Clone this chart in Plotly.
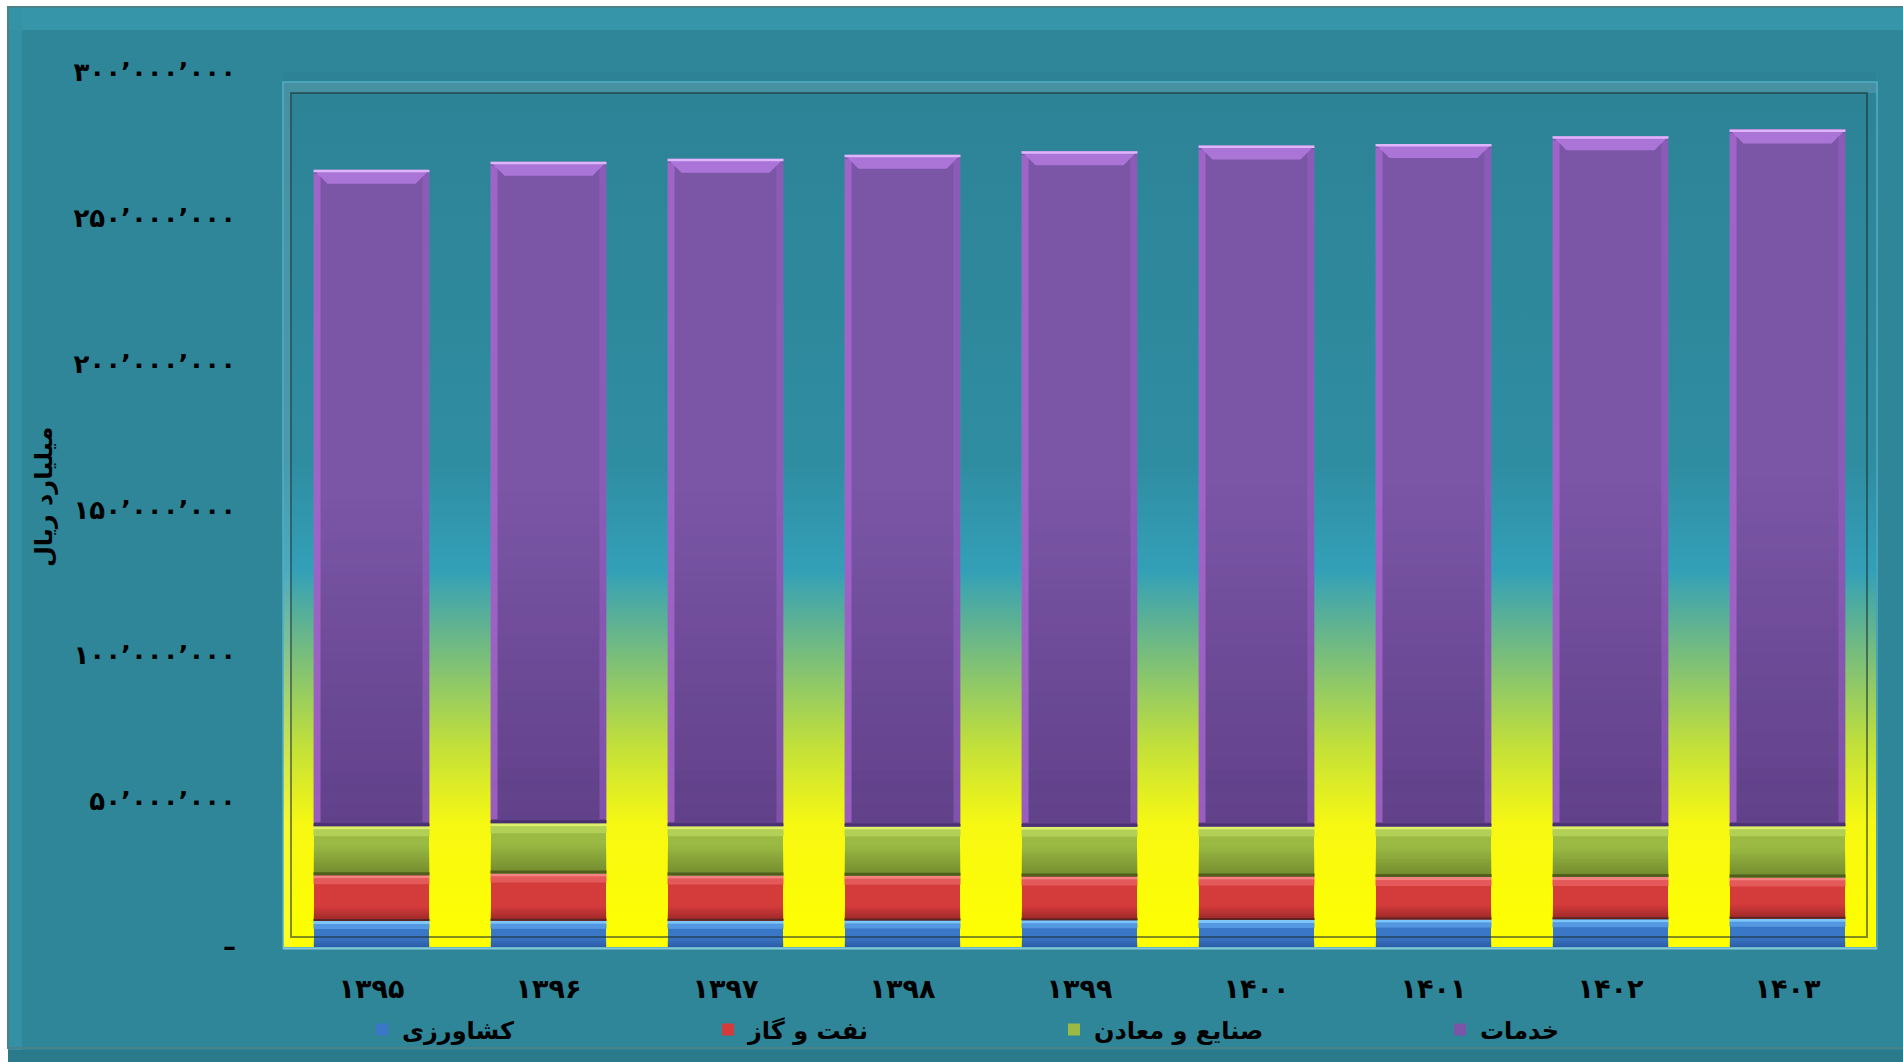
import base64
import plotly.graph_objects as go

# ---- data (میلیارد ریال) ----
years = ["۱۳۹۵", "۱۳۹۶", "۱۳۹۷", "۱۳۹۸", "۱۳۹۹", "۱۴۰۰", "۱۴۰۱", "۱۴۰۲", "۱۴۰۳"]
agriculture = [8_900_000, 9_000_000, 9_000_000, 9_100_000, 9_200_000, 9_300_000, 9_400_000, 9_500_000, 9_700_000]
oil_gas = [15_700_000, 16_200_000, 15_500_000, 15_300_000, 15_000_000, 14_900_000, 14_600_000, 14_500_000, 14_100_000]
industry_mining = [16_800_000, 17_200_000, 16_900_000, 16_900_000, 17_000_000, 17_100_000, 17_300_000, 17_400_000, 17_600_000]
services = [225_100_000, 226_800_000, 228_900_000, 230_300_000, 231_600_000, 233_500_000, 234_000_000, 236_600_000, 238_900_000]

series_names = ["کشاورزی", "نفت و گاز", "صنایع و معادن", "خدمات"]
y_tick_values = [0, 50_000_000, 100_000_000, 150_000_000, 200_000_000, 250_000_000, 300_000_000]
y_tick_labels = ["–", "۵۰٬۰۰۰٬۰۰۰", "۱۰۰٬۰۰۰٬۰۰۰", "۱۵۰٬۰۰۰٬۰۰۰",
                 "۲۰۰٬۰۰۰٬۰۰۰", "۲۵۰٬۰۰۰٬۰۰۰", "۳۰۰٬۰۰۰٬۰۰۰"]
y_title = "میلیارد ریال"

# ---- geometry ----
W, H = 1903, 1062
ML, MR, MT, MB = 283, 27, 72, 115
PW, PH = W - ML - MR, H - MT - MB
Y_MAX = 300_000_000
BAR_W = 0.655
DY = Y_MAX / PH          # data units per pixel (vertical)
DX = 9 / PW              # data units per pixel (horizontal)

FONT = "DejaVu Sans"
base_colors = ["#3b77c7", "#d43b3b", "#9aba44", "#7b56a7"]
stacks = [agriculture, oil_gas, industry_mining, services]


def px(xp):
    return (xp - ML) / PW


def py(yp):
    return (H - MB - yp) / PH


fig = go.Figure()
x_pos = list(range(len(years)))
for k, (name, vals, col) in enumerate(zip(series_names, stacks, base_colors)):
    fig.add_trace(go.Bar(
        x=x_pos, y=vals, name=name, width=BAR_W,
        marker=dict(color=col, line=dict(width=0)),
        legend="legend2" if k == 3 else "legend",
        hoverinfo="skip",
    ))

shapes = []


def rect(x0, x1, y0, y1, color, opacity=1.0, ref="data", layer="above"):
    d = dict(type="rect", x0=x0, x1=x1, y0=y0, y1=y1, fillcolor=color,
             opacity=opacity, line=dict(width=0), layer=layer)
    if ref == "data":
        d.update(xref="x", yref="y")
    else:
        d.update(xref="paper", yref="paper")
    shapes.append(d)


def line_rect(xa, xb, ya, yb, color, width):
    shapes.append(dict(type="rect", xref="paper", yref="paper",
                       x0=px(xa), x1=px(xb), y0=py(ya), y1=py(yb),
                       line=dict(color=color, width=width), fillcolor="rgba(0,0,0,0)",
                       layer="above"))


def shade(x0, x1, y0, y1, color, a_bottom, a_top, steps):
    """Stack of thin bands whose opacity runs from a_bottom to a_top."""
    for k in range(steps):
        t = (k + 0.5) / steps
        a = a_bottom + (a_top - a_bottom) * t
        if a <= 0:
            continue
        rect(x0, x1, y0 + (y1 - y0) * k / steps, y0 + (y1 - y0) * (k + 1) / steps, color, a)


# ---- bevel shading on each stacked segment ----
for i in x_pos:
    x0, x1 = i - BAR_W / 2, i + BAR_W / 2
    a = agriculture[i]
    o = oil_gas[i]
    g = industry_mining[i]
    s = services[i]

    # agriculture (blue)
    y0, y1 = 0, a
    shade(x0, x1, y0, y0 + 10 * DY, "#1c3c80", 0.45, 0.0, 5)
    rect(x0, x1, y1 - 8 * DY, y1 - 3 * DY, "#5598e2")
    rect(x0, x1, y1 - 3 * DY, y1, "#7cc6fb")

    # oil & gas (red)
    y0, y1 = y1, y1 + o
    shade(x0, x1, y0, y0 + 14 * DY, "#5a1414", 0.5, 0.0, 7)
    rect(x0, x1, y0, y0 + 2 * DY, "#5e2422")
    rect(x0, x1, y1 - 9 * DY, y1 - 3 * DY, "#e45a5a")
    rect(x0, x1, y1 - 3 * DY, y1, "#f38282")

    # industry & mining (green)
    y0, y1 = y1, y1 + g
    shade(x0, x1, y0, y0 + 30 * DY, "#3e4c10", 0.45, 0.0, 15)
    rect(x0, x1, y0, y0 + 3 * DY, "#4f5e1c")
    rect(x0, x1, y1 - 10 * DY, y1 - 3 * DY, "#b2cf56")
    rect(x0, x1, y1 - 3 * DY, y1, "#dcf06e")

    # services (purple)
    y0, y1 = y1, y1 + s
    shade(x0, x1, y0, y0 + 0.5 * s, "#1e0a3c", 0.28, 0.0, 30)
    rect(x0, x0 + 7 * DX, y0 + 4 * DY, y1 - 4 * DY, "#b06ad6", 0.7)
    rect(x1 - 7 * DX, x1, y0 + 4 * DY, y1 - 4 * DY, "#9a60c6", 0.55)
    rect(x0, x1, y0, y0 + 3 * DY, "#4a2f72")
    c, h = 14 * DX, 14 * DY
    shapes.append(dict(
        type="path", xref="x", yref="y", layer="above",
        path=(f"M {x0:.5f},{y1:.1f} L {x1:.5f},{y1:.1f} "
              f"L {x1 - c:.5f},{y1 - h:.1f} L {x0 + c:.5f},{y1 - h:.1f} Z"),
        fillcolor="#b77de3", opacity=0.8, line=dict(width=0)))
    rect(x0, x1, y1 - 2.5 * DY, y1, "#dfb4fb")

# ---- outer panel and plot-area frame ----
rect(px(0), px(8), py(H), py(0), "#ffffff", ref="paper")
rect(px(0), px(W), py(6), py(0), "#ffffff", ref="paper")
rect(px(8), px(W), py(30), py(8), "#3797ab", 0.9, ref="paper")
rect(px(8), px(22), py(H), py(8), "#3592a6", 0.9, ref="paper")
line_rect(8, W + 2, 7, H - 14, "#4b8289", 2)
rect(px(8), px(W), py(H), py(H - 12), "#2b7a8b", ref="paper")

# plot frame bevel (semi-transparent so the backdrop shows through)
rect(px(283), px(1877), py(93), py(82), "#ffffff", 0.12, ref="paper")
rect(px(283), px(292), py(947), py(93), "#ffffff", 0.12, ref="paper")
line_rect(283, 1877, 82, 948, "#52aec2", 1.5)
line_rect(291, 1867, 93, 937, "rgba(25,45,50,0.55)", 2)
shapes.append(dict(type="line", xref="paper", yref="paper",
                   x0=px(283), x1=px(1877), y0=py(948.5), y1=py(948.5),
                   line=dict(color="#86c8da", width=2)))

# backdrop gradient behind the bars
svg = (
    '<svg xmlns="http://www.w3.org/2000/svg" width="10" height="1000" '
    'viewBox="0 0 10 1000" preserveAspectRatio="none">'
    '<defs><linearGradient id="g" x1="0" y1="0" x2="0" y2="1">'
    '<stop offset="0" stop-color="#2d8295"/>'
    '<stop offset="0.45" stop-color="#2f8da2"/>'
    '<stop offset="0.57" stop-color="#33a0b8"/>'
    '<stop offset="0.65" stop-color="#6cb886"/>'
    '<stop offset="0.77" stop-color="#c2e03a"/>'
    '<stop offset="0.86" stop-color="#f7f812"/>'
    '<stop offset="1" stop-color="#ffff00"/>'
    '</linearGradient></defs>'
    '<rect width="10" height="1000" fill="url(#g)"/></svg>'
)
bg_src = "data:image/svg+xml;base64," + base64.b64encode(svg.encode()).decode()

bold = dict(family=FONT, color="#000000", weight="bold")

fig.update_layout(
    width=W, height=H,
    margin=dict(l=ML, r=MR, t=MT, b=MB, pad=0, autoexpand=False),
    barmode="stack",
    paper_bgcolor="#2f8698",
    plot_bgcolor="rgba(0,0,0,0)",
    showlegend=True,
    images=[dict(source=bg_src, xref="paper", yref="paper", x=0, y=1,
                 sizex=1, sizey=1, xanchor="left", yanchor="top",
                 sizing="stretch", layer="below")],
    shapes=shapes,
    xaxis=dict(range=[-0.5, 8.5], tickvals=x_pos, ticktext=years,
               showgrid=False, zeroline=False, showline=False, ticks="",
               automargin=False,
               tickfont=dict(size=27, **bold), ticklabelstandoff=23, fixedrange=True),
    yaxis=dict(range=[0, Y_MAX], tickvals=y_tick_values, ticktext=y_tick_labels,
               showgrid=False, zeroline=False, showline=False, ticks="",
               automargin=False,
               tickfont=dict(size=26, **bold),
               ticklabelstandoff=46, fixedrange=True),
    legend=dict(orientation="h", xref="paper", yref="paper",
                x=px(362), y=py(1030), xanchor="left", yanchor="middle",
                entrywidth=301, entrywidthmode="pixels", traceorder="normal",
                bgcolor="rgba(0,0,0,0)", font=dict(size=24, **bold)),
    legend2=dict(orientation="h", xref="paper", yref="paper",
                 x=px(1440), y=py(1030), xanchor="left", yanchor="middle",
                 bgcolor="rgba(0,0,0,0)", font=dict(size=24, **bold)),
    annotations=[dict(text=y_title, xref="paper", yref="paper",
                      x=px(44), y=py(497), textangle=-90, showarrow=False,
                      xanchor="center", yanchor="middle",
                      font=dict(size=24, **bold))],
)

fig.write_html("out.html")
